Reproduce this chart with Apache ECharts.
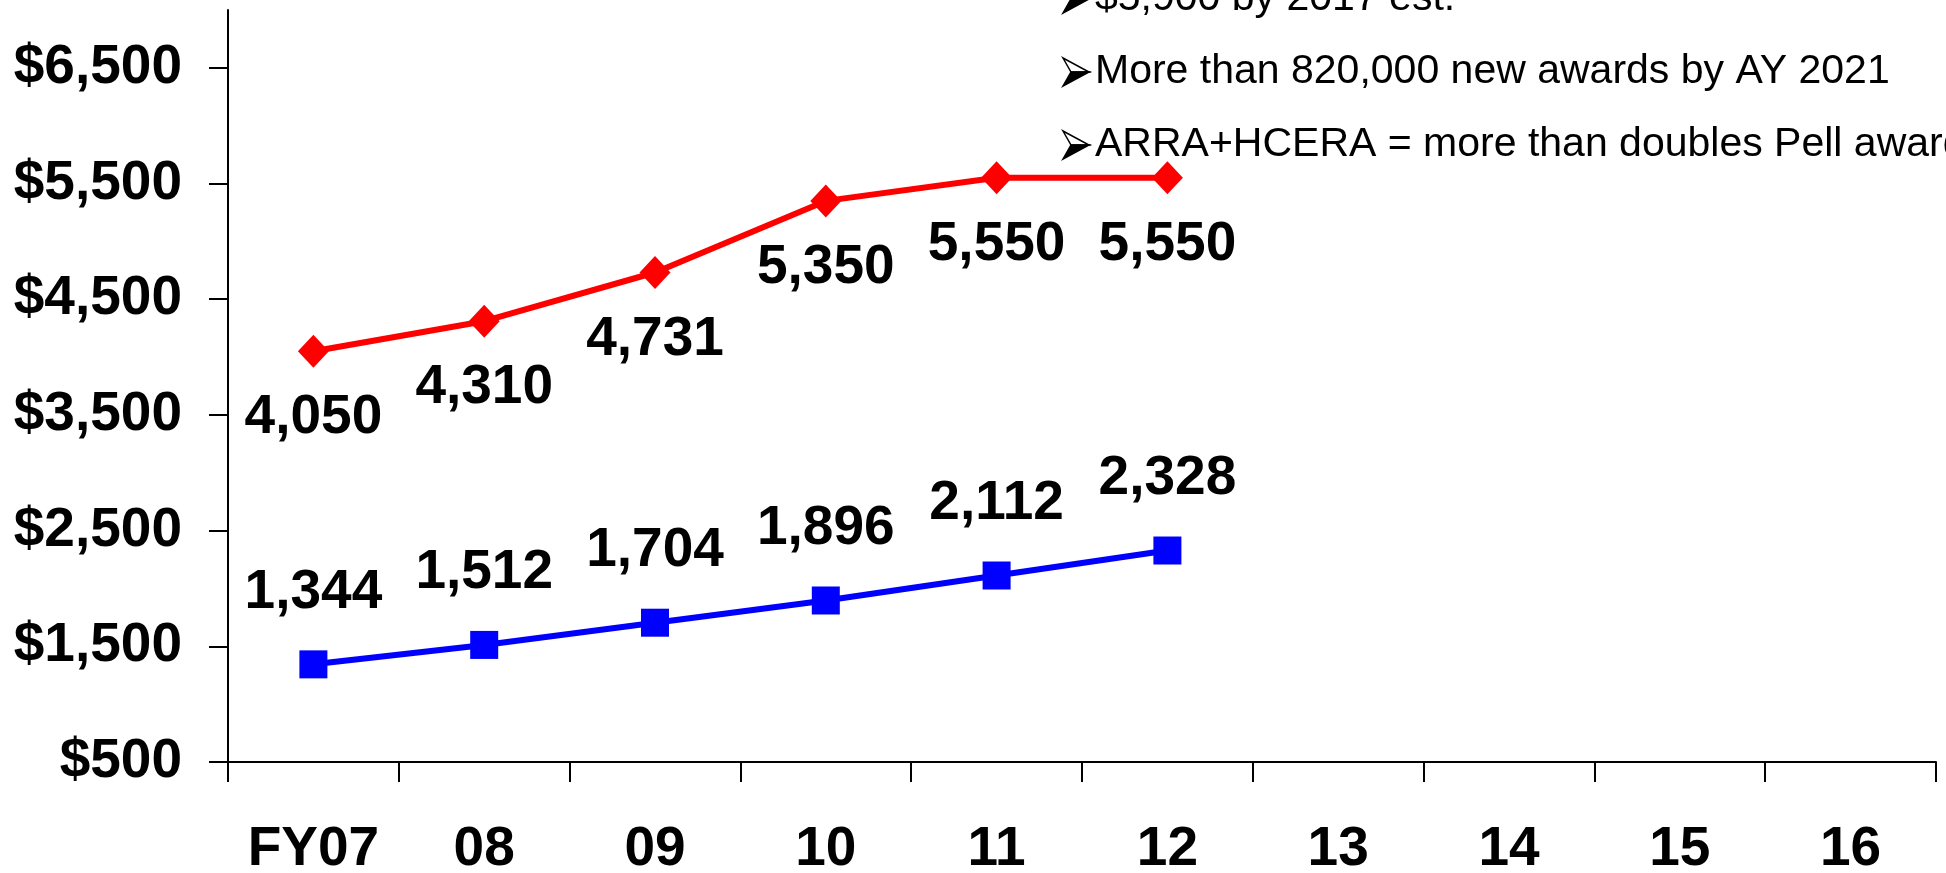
<!DOCTYPE html>
<html>
<head>
<meta charset="utf-8">
<script src="https://cdn.jsdelivr.net/npm/echarts@6/dist/echarts.min.js"></script>
<style>
html,body{margin:0;padding:0;background:#fff;}
#chart{width:1946px;height:873px;}
</style>
</head>
<body>
<div id="chart"></div>
<script>
const categories = ['FY07','08','09','10','11','12','13','14','15','16'];
const maxAward = [4050, 4310, 4731, 5350, 5550, 5550];
const costPerStudent = [1344, 1512, 1704, 1896, 2112, 2328];
const yTicks = [500, 1500, 2500, 3500, 4500, 5500, 6500];
const bullets = [
  '$5,900 by 2017 est.',
  'More than 820,000 new awards by AY 2021',
  'ARRA+HCERA = more than doubles Pell awards'
];

const FONT = '"Liberation Sans", Arial, sans-serif';
const chart = echarts.init(document.getElementById('chart'), null, {renderer: 'canvas'});

const bulletGraphics = [];
bullets.forEach((t, i) => {
  const cy = -1 + i * 73;
  // arrowhead bullet: upper half outlined, lower half filled
  bulletGraphics.push({
    type: 'polygon',
    shape: {points: [[1063, cy - 14], [1089, cy], [1071, cy]]},
    style: {fill: '#fff', stroke: '#000', lineWidth: 1.5}
  });
  bulletGraphics.push({
    type: 'polygon',
    shape: {points: [[1071, cy], [1089, cy], [1063, cy + 14]]},
    style: {fill: '#000', stroke: '#000', lineWidth: 1.5}
  });
  bulletGraphics.push({
    type: 'text', x: 1095, y: cy,
    style: {text: t, fontSize: 41, fontFamily: FONT, fill: '#000', textVerticalAlign: 'middle'}
  });
});

chart.setOption({
  animation: false,
  backgroundColor: '#fff',
  grid: {left: 228, right: 10, top: 10, bottom: 111, containLabel: false, outerBoundsMode: 'none'},
  xAxis: {
    type: 'category',
    data: categories,
    boundaryGap: true,
    axisLine: {show: true, lineStyle: {color: '#000', width: 2}},
    axisTick: {show: true, inside: false, length: 20, alignWithLabel: false, lineStyle: {color: '#000', width: 2}},
    axisLabel: {margin: 60, fontSize: 55, fontWeight: 'bold', fontFamily: FONT, color: '#000', interval: 0},
    splitLine: {show: false}
  },
  yAxis: {
    type: 'value',
    min: 500,
    max: 7000,
    interval: 1000,
    axisLine: {show: true, lineStyle: {color: '#000', width: 2}},
    axisTick: {show: true, length: 19, customValues: yTicks, lineStyle: {color: '#000', width: 2}},
    axisLabel: {
      margin: 46, fontSize: 55, fontWeight: 'bold', fontFamily: FONT, color: '#000',
      customValues: yTicks,
      formatter: v => '$' + v.toLocaleString('en-US')
    },
    splitLine: {show: false}
  },
  series: [
    {
      type: 'line',
      data: maxAward,
      symbol: 'diamond',
      symbolSize: [31, 33],
      lineStyle: {color: '#FF0000', width: 6},
      itemStyle: {color: '#FF0000'},
      label: {
        show: true, position: 'inside', offset: [0, 67],
        fontSize: 55, fontWeight: 'bold', fontFamily: FONT, color: '#000',
        formatter: p => p.value.toLocaleString('en-US')
      },
      z: 3
    },
    {
      type: 'line',
      data: costPerStudent,
      symbol: 'rect',
      symbolSize: 28,
      lineStyle: {color: '#0000FF', width: 6},
      itemStyle: {color: '#0000FF'},
      label: {
        show: true, position: 'inside', offset: [0, -72],
        fontSize: 55, fontWeight: 'bold', fontFamily: FONT, color: '#000',
        formatter: p => p.value.toLocaleString('en-US')
      },
      z: 3
    }
  ],
  graphic: bulletGraphics
});
</script>
</body>
</html>
